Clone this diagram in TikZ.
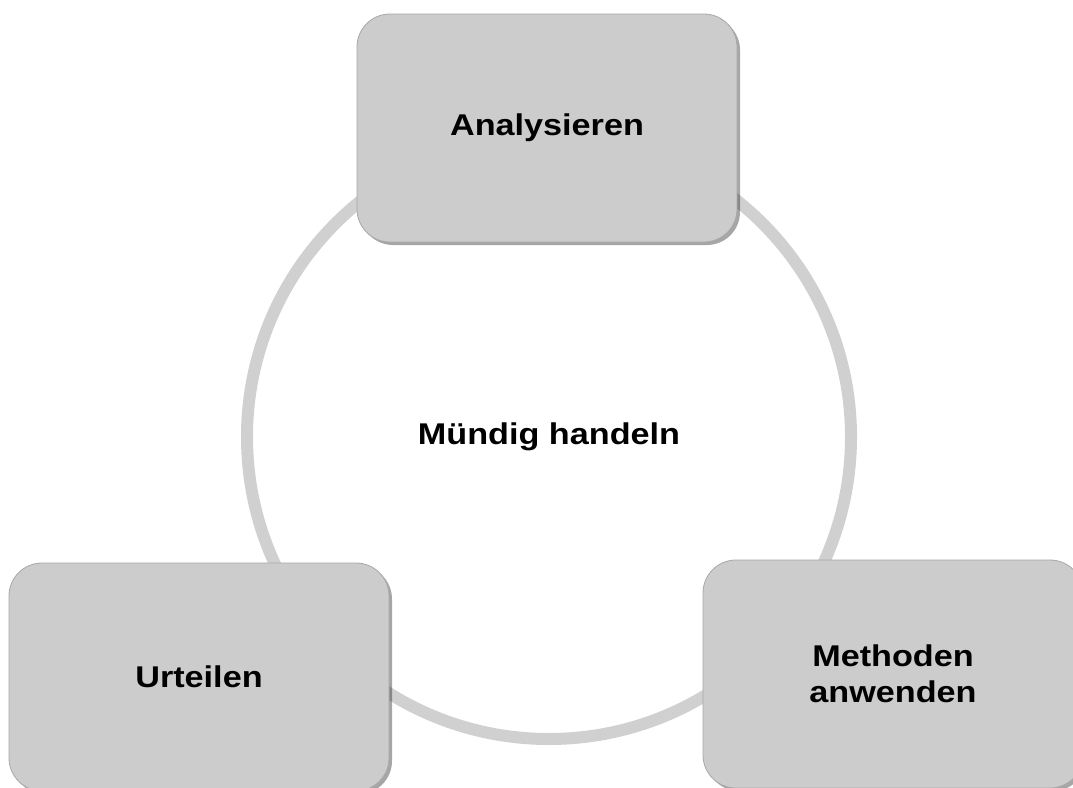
\documentclass[tikz,border=0pt]{standalone}
\usepackage{fontspec}
\setmainfont{Liberation Sans}[FakeStretch=1.14]
\usetikzlibrary{positioning, shadows}

\definecolor{boxgray}{HTML}{CCCCCC}
\definecolor{ringgray}{HTML}{D0D0D0}
\definecolor{edgegray}{HTML}{A8A8A8}

\tikzset{
  stage/.style={draw=edgegray, line width=0.8pt, fill=boxgray, rounded corners=33pt,
    minimum width=380pt, minimum height=228pt, align=center,
    font=\fontsize{30}{36}\selectfont\bfseries,
    drop shadow={shadow xshift=3pt, shadow yshift=-3pt, fill=black, opacity=0.35}},
  ring/.style={circle, draw=ringgray, line width=12pt, minimum size=604pt,
    font=\fontsize{30}{36}\selectfont\bfseries}
}

\begin{document}
\begin{tikzpicture}[x=1pt, y=-1pt]
  \useasboundingbox (0,0) rectangle (1073,787);
  \clip (0,0) rectangle (1073,787);
  % central cycle
  \node[ring] (mitte) at (549,437) {Mündig handeln};
  % the three steps
  \node[stage] (analyse) at (547,128) {Analysieren};
  \node[stage] (urteil) at (199,677) {Urteilen};
  \node[stage] (methode) at (893,674) {Methoden\\anwenden};
\end{tikzpicture}
\end{document}
